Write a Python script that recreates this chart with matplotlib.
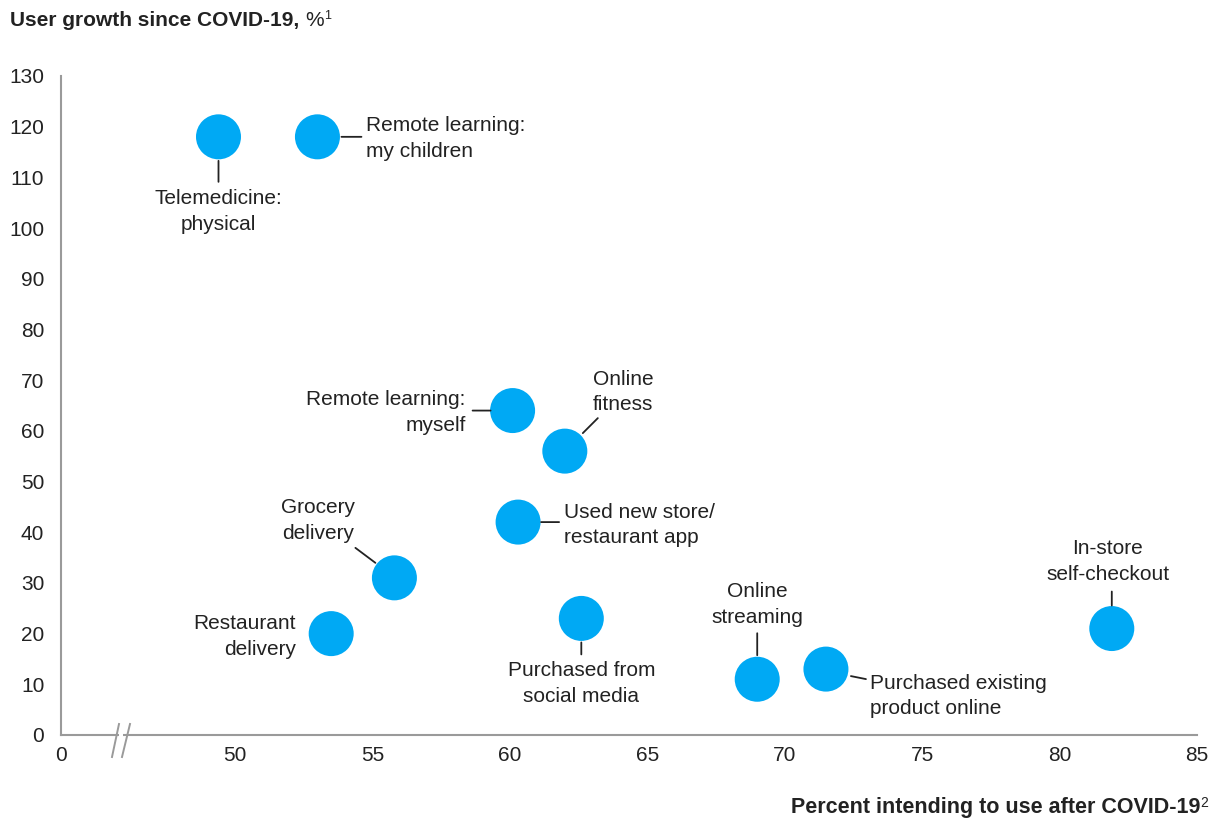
import matplotlib
matplotlib.use("Agg")
import matplotlib.pyplot as plt
from matplotlib.transforms import offset_copy
from matplotlib.patches import Rectangle
from matplotlib.lines import Line2D

# ---------------- data ----------------
labels = [
    "Telemedicine:\nphysical",
    "Remote learning:\nmy children",
    "Remote learning:\nmyself",
    "Online\nfitness",
    "Used new store/\nrestaurant app",
    "Grocery\ndelivery",
    "Restaurant\ndelivery",
    "Purchased from\nsocial media",
    "Online\nstreaming",
    "Purchased existing\nproduct online",
    "In-store\nself-checkout",
]
intend_pct = [49.4, 53.0, 60.1, 62.0, 60.3, 55.8, 53.5, 62.6, 69.0, 71.5, 81.9]
growth_pct = [118, 118, 64, 56, 42, 31, 20, 23, 11, 13, 21]

x_ticks = [50, 55, 60, 65, 70, 75, 80, 85]
x_tick_labels = ["50", "55", "60", "65", "70", "75", "80", "85"]
y_ticks = list(range(0, 131, 10))

# ---------------- styles ----------------
BLUE = "#00A9F4"
TXT = "#222222"
AXC = "#9a9a9a"
FONT = "Liberation Sans"
FS = 15

# label placement: (dx, dy) in pixels, ha, connector (start, end) offsets in pixels or None
placement = [
    ((0, -75), "center", ((0, -24), (0, -45))),
    ((49, -2), "left", ((24, 0), (44, 0))),
    ((-47, -2), "right", ((-40, 0), (-22, 0))),
    ((58, 59), "center", ((18, 18), (33, 33))),
    ((46, -3), "left", ((23, 0), (41, 0))),
    ((-76, 57), "center", ((-39, 30), (-19, 15))),
    ((-35, -3), "right", None),
    ((0, -65), "center", ((0, -24), (0, -36))),
    ((0, 75), "center", ((0, 46), (0, 24))),
    ((44, -27), "left", ((25, -7), (40, -10))),
    ((-4, 67), "center", ((0, 37), (0, 23))),
]

plt.rcParams["font.family"] = [FONT, "DejaVu Sans"]

fig = plt.figure(figsize=(12.19, 8.19), dpi=100)
L, R, B, T = 61 / 1219, 1197 / 1219, 1 - 735 / 819, 1 - 76 / 819
ax = fig.add_axes([L, B, R - L, T - B])

X0 = 43.67
ax.set_xlim(X0, 85)
ax.set_ylim(0, 130)

ax.scatter(intend_pct, growth_pct, s=1050, color=BLUE, edgecolors="none", zorder=3)

for xv, yv, lab, (off, ha, conn) in zip(intend_pct, growth_pct, labels, placement):
    ax.annotate(lab, xy=(xv, yv), xytext=off, textcoords="offset pixels",
                ha=ha, va="center", multialignment=ha, fontsize=FS, color=TXT,
                linespacing=1.45, zorder=4)
    if conn is not None:
        (sx, sy), (ex, ey) = conn
        ax.annotate("", xy=(xv, yv), xycoords=offset_copy(ax.transData, fig=fig, x=ex, y=ey, units="dots"),
                    xytext=(xv, yv), textcoords=offset_copy(ax.transData, fig=fig, x=sx, y=sy, units="dots"),
                    arrowprops=dict(arrowstyle="-", color=TXT, lw=1.3, shrinkA=0, shrinkB=0))

# axes styling
for s in ["top", "right"]:
    ax.spines[s].set_visible(False)
for s in ["left", "bottom"]:
    ax.spines[s].set_color(AXC)
    ax.spines[s].set_linewidth(1.5)

ax.set_xticks([X0] + x_ticks)
ax.set_xticklabels(["0"] + x_tick_labels)
ax.set_yticks(y_ticks)
ax.tick_params(axis="both", length=0, labelsize=FS, colors=TXT)
ax.tick_params(axis="x", pad=8)
ax.tick_params(axis="y", pad=12)

# axis break marks
w, h = 1136, 659
def fx(px):
    return (px - 61) / w
def fy(py):
    return (735 - py) / h
ax.add_patch(Rectangle((fx(118.5), fy(738)), fx(123) - fx(118.5), fy(731) - fy(738),
                       transform=ax.transAxes, facecolor="white", edgecolor="none",
                       clip_on=False, zorder=5))
for x1, x2 in [(112, 119), (122, 130)]:
    ax.add_line(Line2D([fx(x1), fx(x2)], [fy(757), fy(724)], transform=ax.transAxes,
                       color=AXC, lw=1.4, clip_on=False, zorder=6))

# titles with superscripts
fig.canvas.draw()
renderer = fig.canvas.get_renderer()

def chain(parts, x, y, ha="left"):
    # parts: list of (text, weight, size, raise_px)
    objs = []
    cur = x
    for txt, wt, sz, rs in parts:
        t = fig.text(cur / 1219, 1 - (y - rs) / 819, txt, fontsize=sz, fontweight=wt,
                     color=TXT, ha="left", va="baseline")
        bb = t.get_window_extent(renderer)
        cur = cur + bb.width
        objs.append(t)
    if ha == "right":
        shift = cur - x
        for t in objs:
            px, py = t.get_position()
            t.set_position((px - shift / 1219, py))
    return objs

chain([("User growth since COVID-19, ", "bold", FS, 0), ("%", "normal", FS, 0), ("1", "normal", 9, 7)], 10, 26)
chain([("Percent intending to use after COVID-19", "bold", 15.5, 0), ("2", "normal", 10, 6)], 1208, 813, ha="right")

fig.savefig("out.png", dpi=100)
